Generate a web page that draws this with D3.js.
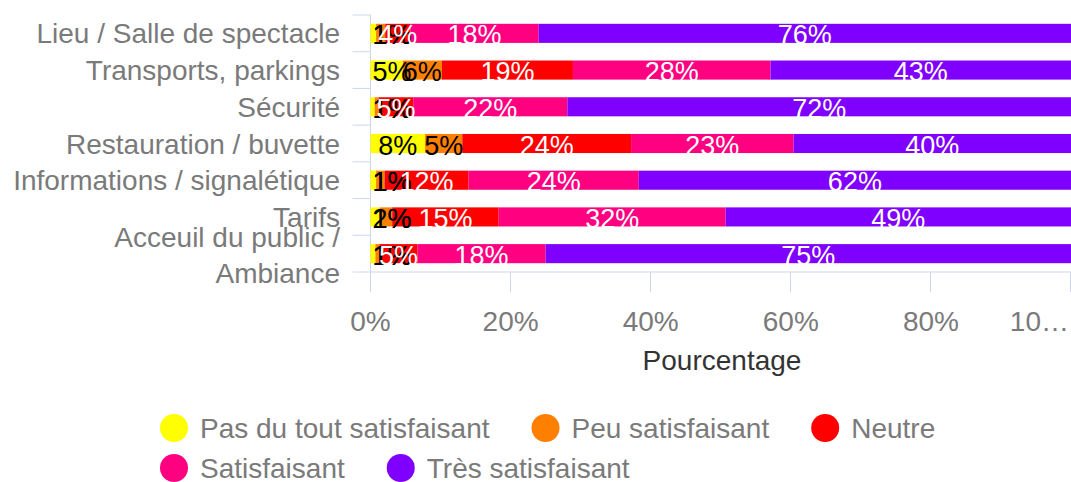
<!DOCTYPE html>
<html>
<head>
<meta charset="utf-8">
<script src="https://cdn.jsdelivr.net/npm/d3@7"></script>
<style>
  body { margin: 0; background: #fff; }
  svg { display: block; font-family: "Liberation Sans", Arial, sans-serif; }
</style>
</head>
<body>
<svg id="chart" width="1071" height="482"></svg>
<script>
"use strict";

var categories = [
  "Lieu / Salle de spectacle",
  "Transports, parkings",
  "Sécurité",
  "Restauration / buvette",
  "Informations / signalétique",
  "Tarifs",
  "Acceuil du public / Ambiance"
];

var seriesNames = ["Pas du tout satisfaisant", "Peu satisfaisant", "Neutre", "Satisfaisant", "Très satisfaisant"];
var seriesColors = ["#ffff00", "#ff8000", "#ff0000", "#ff0080", "#8000ff"];
var labelColors = ["#000", "#000", "#fff", "#fff", "#fff"];

// percentages per category
var pasDuTout   = [0.8, 4.6, 0.6, 7.8, 0.8, 1.3, 0.7];
var peu         = [1.3, 5.6, 0.6, 5.3, 1.2, 1.8, 0.6];
var neutre      = [3.6, 18.7, 4.9, 24.1, 12.0, 15.2, 5.4];
var satisfait   = [18.3, 28.2, 22.0, 23.2, 24.3, 32.4, 18.3];
var tresSatisf  = [76.0, 42.9, 71.9, 39.6, 61.7, 49.3, 75.0];

var xTicks = [0, 20, 40, 60, 80, 100];
var xTickLabels = ["0%", "20%", "40%", "60%", "80%", "10…"];

var seriesValues = [pasDuTout, peu, neutre, satisfait, tresSatisf];

var svg = d3.select("#chart");
var axisColor = "#ccd6eb";
var labelGrey = "#7a7a7a";

var x = d3.scaleLinear().domain([0, 100]).range([370.5, 1071]);
var y = d3.scaleBand().domain(categories).range([15, 272])
  .paddingInner(0.48).paddingOuter(0.24);

// stacked rows
var rows = categories.map(function (c, i) {
  var row = { cat: c };
  seriesNames.forEach(function (s, j) { row[s] = seriesValues[j][i]; });
  return row;
});
var stacked = d3.stack().keys(seriesNames)(rows);

// axes lines
var axes = svg.append("g");
axes.append("line")
  .attr("x1", x(0)).attr("x2", x(0))
  .attr("y1", y.range()[0]).attr("y2", y.range()[1])
  .attr("stroke", axisColor);
axes.append("line")
  .attr("x1", x(0)).attr("x2", 1071)
  .attr("y1", y.range()[1]).attr("y2", y.range()[1])
  .attr("stroke", axisColor);

// y ticks between categories
var boundaries = d3.range(categories.length + 1).map(function (i) {
  return y.range()[0] + i * y.step();
});
axes.selectAll(".ytick").data(boundaries).enter().append("line")
  .attr("x1", x(0) - 18).attr("x2", x(0))
  .attr("y1", function (d) { return d; }).attr("y2", function (d) { return d; })
  .attr("stroke", axisColor);

// x ticks
axes.selectAll(".xtick").data(xTicks).enter().append("line")
  .attr("x1", function (d) { return Math.round(x(d)) - 0.5; })
  .attr("x2", function (d) { return Math.round(x(d)) - 0.5; })
  .attr("y1", y.range()[1]).attr("y2", y.range()[1] + 20)
  .attr("stroke", axisColor);

axes.selectAll(".xlabel").data(xTicks).enter().append("text")
  .attr("x", function (d, i) { return i === xTicks.length - 1 ? 1069 : x(d); })
  .attr("y", 331)
  .attr("text-anchor", function (d, i) { return i === xTicks.length - 1 ? "end" : "middle"; })
  .attr("font-size", 28)
  .attr("fill", labelGrey)
  .text(function (d, i) { return xTickLabels[i]; });

svg.append("text")
  .attr("x", 722).attr("y", 370)
  .attr("text-anchor", "middle")
  .attr("font-size", 28)
  .attr("fill", "#333")
  .text("Pourcentage");

// category labels, the long last one wraps on two lines
var ylab = svg.append("g").attr("font-size", 28).attr("fill", labelGrey).attr("text-anchor", "end");
categories.forEach(function (c) {
  var cy = y(c) + y.bandwidth() / 2;
  var t = ylab.append("text").attr("x", 340);
  if (c.length > 27) {
    var cut = c.lastIndexOf(" ");
    t.append("tspan").attr("x", 340).attr("y", cy - 7).text(c.slice(0, cut));
    t.append("tspan").attr("x", 340).attr("y", cy + 29).text(c.slice(cut + 1));
  } else {
    t.attr("y", cy + 10).text(c);
  }
});

// bars
var layers = svg.selectAll(".layer").data(stacked).enter().append("g")
  .attr("fill", function (d, i) { return seriesColors[i]; });

layers.selectAll("rect").data(function (d) { return d; }).enter().append("rect")
  .attr("x", function (d) { return x(d[0]); })
  .attr("width", function (d) { return x(d[1]) - x(d[0]); })
  .attr("y", function (d) { return y(d.data.cat); })
  .attr("height", y.bandwidth());

// data labels, kept inside the plot on the left
var fmt = function (v) { return Math.round(v) + "%"; };
stacked.forEach(function (layer, i) {
  var g = svg.append("g").attr("font-size", 27).attr("fill", labelColors[i]).attr("text-anchor", "middle");
  layer.forEach(function (d) {
    var t = g.append("text")
      .attr("y", y(d.data.cat) + y.bandwidth() / 2 + 11)
      .text(fmt(d[1] - d[0]));
    var w = t.node().getComputedTextLength();
    var cx = (x(d[0]) + x(d[1])) / 2;
    cx = Math.max(cx, x(0) + 2 + w / 2);
    t.attr("x", cx);
  });
});

// legend
var legend = svg.append("g").attr("font-size", 28);
var lx = 160, ly = 428;
seriesNames.forEach(function (s, i) {
  var item = legend.append("g");
  item.append("circle").attr("r", 14).attr("fill", seriesColors[i]);
  var t = item.append("text").attr("x", 26).attr("y", 10).attr("fill", labelGrey).text(s);
  var w = 40 + t.node().getComputedTextLength();
  if (lx + w > 1000) { lx = 160; ly += 40; }
  item.attr("transform", "translate(" + (lx + 14) + "," + ly + ")");
  lx += w + 42;
});
</script>
</body>
</html>
